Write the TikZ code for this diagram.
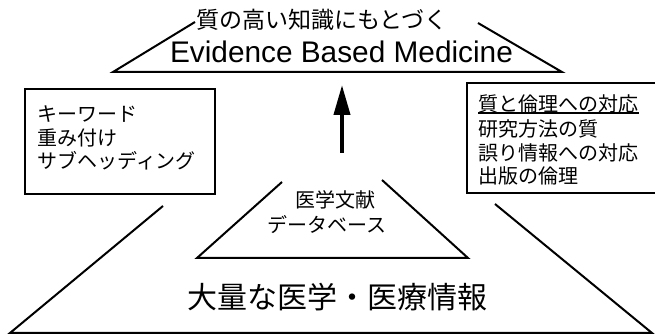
\documentclass[tikz,border=0pt]{standalone}
\usepackage{fontspec}
\setmainfont{Noto Sans CJK JP}
\newfontfamily\ebmfont{Liberation Sans}
\usetikzlibrary{arrows.meta}
\begin{document}
\begin{tikzpicture}[x=0.5pt,y=-0.5pt,
  edgeline/.style={line width=1pt, line join=miter},
  boxline/.style={line width=0.8pt},
  txt/.style={inner sep=0pt, font=\fontsize{10}{12}\selectfont},
  listline/.style={txt, anchor=west},
  bigarrow/.style={line width=2pt, -{Triangle[length=15pt,width=8pt]}}]
\useasboundingbox (0,0) rectangle (655,335);
\fill[white] (0,0) rectangle (655,335);
\begin{scope}
\clip (0,0) rectangle (655,335);
% top trapezoid
\coordinate (tA) at (113,72);
\coordinate (tB) at (195,22);
\coordinate (tC) at (478,23);
\coordinate (tD) at (562,72);
\draw[edgeline] (tB) -- (tA) -- (tD) -- (tC);
% middle trapezoid
\coordinate (mA) at (282,182);
\coordinate (mB) at (197,258);
\coordinate (mC) at (468,258);
\coordinate (mD) at (382,180);
\draw[edgeline] (mA) -- (mB) -- (mC) -- (mD);
% big trapezoid
\coordinate (bA) at (163,206);
\coordinate (bB) at (10,333);
\coordinate (bC) at (652,333);
\coordinate (bD) at (495,204);
\draw[edgeline] (bA) -- (bB) -- (bC) -- (bD);
% left box
\node[draw, boxline, minimum width=95pt, minimum height=52.5pt, inner sep=0pt] (lbox) at (120,141.5) {};
% right box
\coordinate (rb1) at (467,83);
\coordinate (rb2) at (690,193);
\draw[boxline] (rb1) rectangle (rb2);
% texts
\node[inner sep=0pt, font=\fontsize{11.5}{13}\selectfont] (top1) at (322,20) {質の高い知識にもとづく};
\node[inner sep=0pt, anchor=base, font=\ebmfont\fontsize{14.9}{17}\selectfont] (ebm) at (341.5,63) {Evidence Based Medicine};
\node[listline] (l1) at (37,114) {キーワード};
\node[listline] (l2) at (37,138) {重み付け};
\node[listline] (l3) at (37,161) {サブヘッディング};
\node[listline] (r1) at (478,104) {質と倫理への対応};
\node[listline] (r2) at (478,129) {研究方法の質};
\node[listline] (r3) at (478,153) {誤り情報への対応};
\node[listline] (r4) at (478,176) {出版の倫理};
\draw[line width=0.6pt] ([yshift=-4.5pt]r1.west) -- ([yshift=-4.5pt]r1.east);
\node[txt] (m1) at (335,200) {医学文献};
\node[txt] (m2) at (327,225) {データベース};
\node[inner sep=0pt, font=\fontsize{15}{18}\selectfont] (big) at (337.5,297) {大量な医学・医療情報};
% arrow
\coordinate (arB) at (342,153);
\coordinate (arT) at (342,85);
\draw[bigarrow] (arB) -- (arT);
\end{scope}
\end{tikzpicture}
\end{document}
